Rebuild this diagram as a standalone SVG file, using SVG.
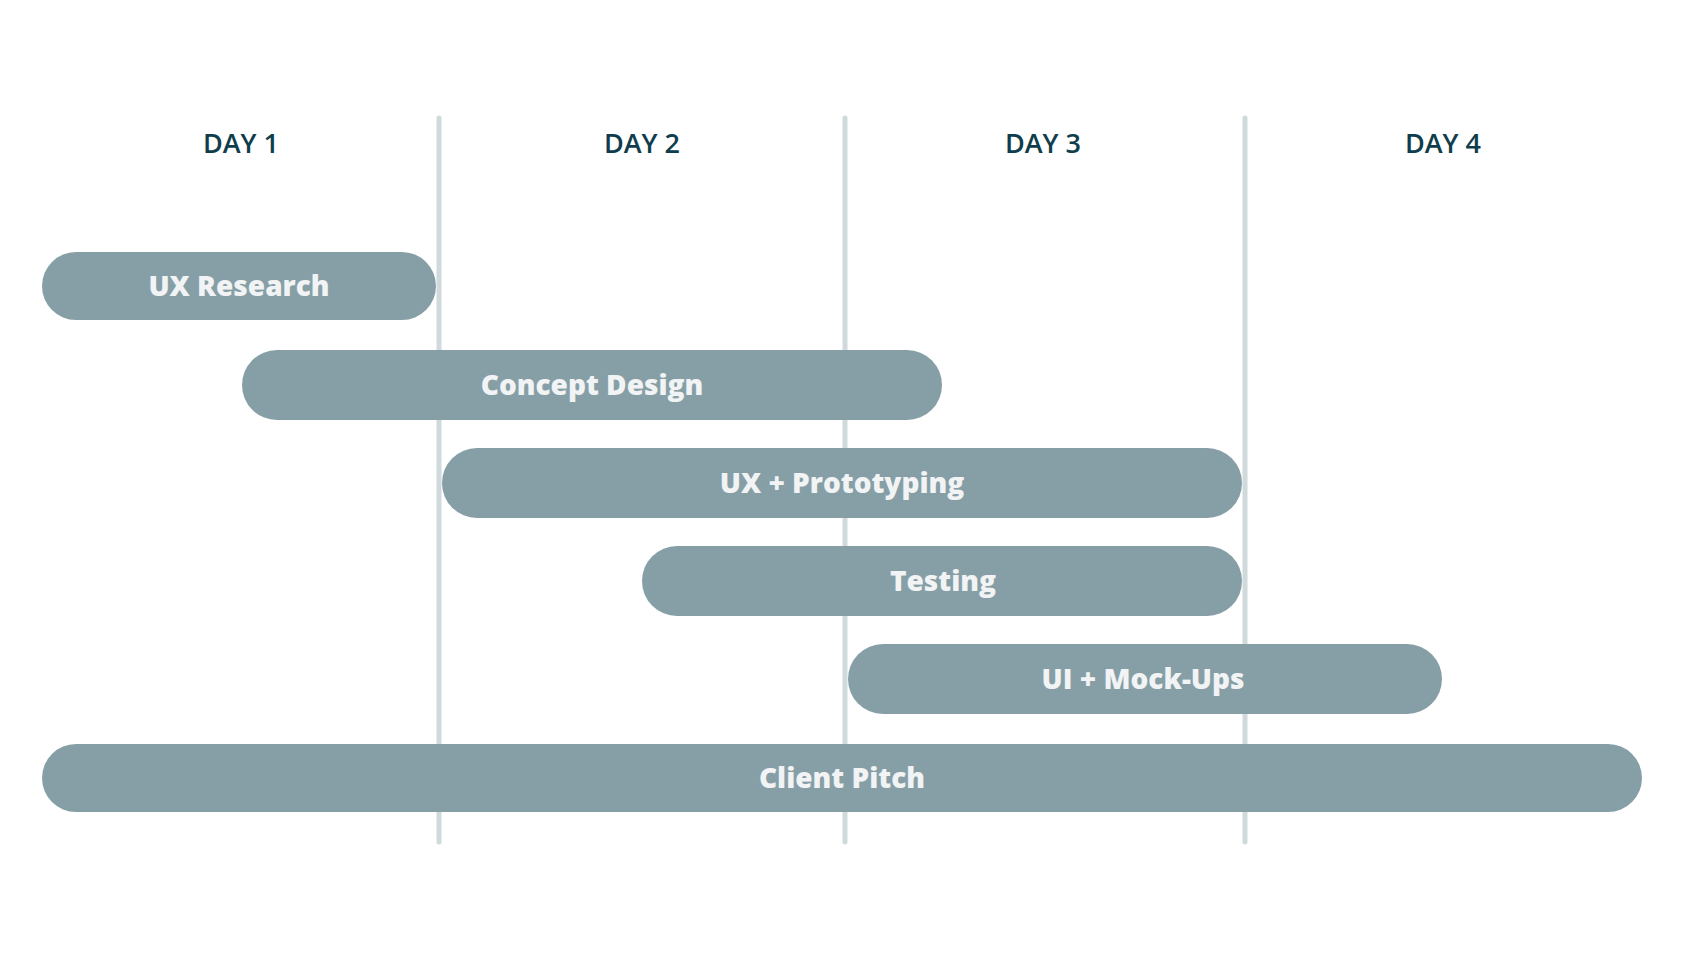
<svg xmlns="http://www.w3.org/2000/svg" width="1698" height="962" viewBox="0 0 1698 962">
<style>
.day{font-family:"Open Sans","Liberation Sans",sans-serif;font-size:27px;font-weight:600;fill:#0f3d4c;text-anchor:middle}
.bar{fill:#869fa6}
.lbl{font-family:"Open Sans","Liberation Sans",sans-serif;font-size:28px;font-weight:800;fill:#f1f3f4;text-anchor:middle}
.grid{stroke:#d0d9dc;stroke-width:5;stroke-linecap:round}
</style>
<rect width="1698" height="962" fill="#ffffff"/>
<g id="headers">
<text class="day" x="241" y="153">DAY 1</text>
<text class="day" x="642" y="153">DAY 2</text>
<text class="day" x="1043" y="153">DAY 3</text>
<text class="day" x="1443" y="153">DAY 4</text>
</g>
<g id="gridlines">
<line class="grid" x1="439" y1="118" x2="439" y2="842"/>
<line class="grid" x1="845" y1="118" x2="845" y2="842"/>
<line class="grid" x1="1245" y1="118" x2="1245" y2="842"/>
</g>
<g id="ux-research">
<rect class="bar" x="42" y="252" width="394" height="68" rx="34"/>
<text class="lbl" x="239" y="296">UX Research</text>
</g>
<g id="concept-design">
<rect class="bar" x="242" y="350" width="700" height="70" rx="35"/>
<text class="lbl" x="592" y="395">Concept Design</text>
</g>
<g id="ux-prototyping">
<rect class="bar" x="442" y="448" width="800" height="70" rx="35"/>
<text class="lbl" x="842" y="493">UX + Prototyping</text>
</g>
<g id="testing">
<rect class="bar" x="642" y="546" width="600" height="70" rx="35"/>
<text class="lbl" x="943" y="591">Testing</text>
</g>
<g id="ui-mockups">
<rect class="bar" x="848" y="644" width="594" height="70" rx="35"/>
<text class="lbl" x="1143" y="689">UI + Mock-Ups</text>
</g>
<g id="client-pitch">
<rect class="bar" x="42" y="744" width="1600" height="68" rx="34"/>
<text class="lbl" x="842" y="788">Client Pitch</text>
</g>
</svg>
